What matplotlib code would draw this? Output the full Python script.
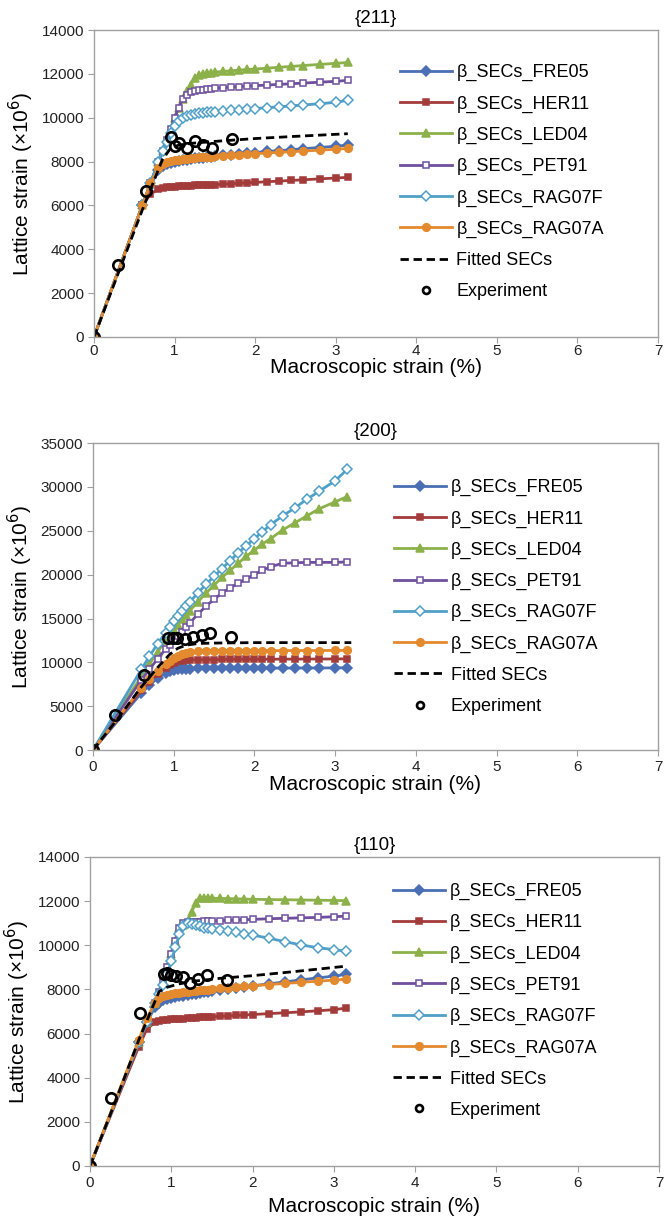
import matplotlib
matplotlib.use('Agg')
import matplotlib.pyplot as plt

plt.rcParams['font.family'] = ['Liberation Sans', 'DejaVu Sans']

# ---- {211} ----
x211 = [0, 0.6, 0.7, 0.8, 0.85, 0.9, 0.95, 1.0, 1.05, 1.1, 1.15, 1.2, 1.25, 1.3,
        1.35, 1.4, 1.45, 1.5, 1.6, 1.7, 1.8, 1.9, 2.0, 2.15, 2.3, 2.45, 2.6, 2.8, 3.0, 3.15]
fre05_211 = [0, 6000, 6900, 7600, 7800, 7900, 7950, 8000, 8030, 8060, 8090, 8110,
             8140, 8160, 8180, 8200, 8220, 8240, 8280, 8310, 8350, 8380, 8410, 8460, 8500, 8540, 8590,
             8640, 8700, 8750]
her11_211 = [0, 6000, 6500, 6750, 6800, 6820, 6840, 6860, 6870, 6880, 6890, 6900,
             6910, 6920, 6930, 6940, 6945, 6950, 6970, 6990, 7010, 7030, 7050, 7080, 7110, 7140, 7170,
             7210, 7250, 7280]
led04_211 = [0, 6000, 7000, 8000, 8500, 9000, 9500, 10000, 10450, 10850, 11200, 11500,
             11800, 11950, 12000, 12030, 12060, 12080, 12110, 12140, 12170, 12200, 12220, 12260, 12300,
             12340, 12380, 12430, 12480, 12520]
pet91_211 = [0, 6000, 7000, 8000, 8500, 9000, 9500, 10000, 10450, 10850, 11050, 11150,
             11200, 11250, 11280, 11300, 11320, 11340, 11370, 11400, 11420, 11440, 11460, 11490, 11520,
             11550, 11580, 11620, 11660, 11700]
rag07f_211 = [0, 6000, 7000, 8000, 8500, 8900, 9300, 9600, 9850, 10000, 10080, 10130,
              10170, 10200, 10220, 10240, 10260, 10280, 10310, 10340, 10370, 10400, 10420, 10460, 10500,
              10540, 10580, 10640, 10700, 10800]
rag07a_211 = [0, 6000, 7000, 7700, 7900, 8000, 8040, 8070, 8090, 8110, 8130, 8150,
              8170, 8190, 8200, 8220, 8230, 8250, 8270, 8300, 8320, 8340, 8360, 8390, 8420, 8450, 8480,
              8520, 8560, 8600]
fit_x211 = [0, 0.3, 0.6, 0.85, 0.95, 1.05, 1.2, 1.5, 2.0, 2.5, 3.15]
fit_y211 = [0, 2900, 5800, 8100, 8600, 8750, 8830, 8920, 9050, 9150, 9270]
exp_x211 = [0, 0.3, 0.645, 0.955, 1.0, 1.05, 1.15, 1.25, 1.35, 1.46, 1.71]
exp_y211 = [0, 3280, 6660, 9120, 8710, 8850, 8620, 8940, 8760, 8620, 9030]

# ---- {200} ----
x200 = [0, 0.6, 0.7, 0.8, 0.9, 0.95, 1.0, 1.05, 1.1, 1.15, 1.2, 1.3, 1.4, 1.5,
        1.6, 1.7, 1.8, 1.9, 2.0, 2.1, 2.2, 2.35, 2.5, 2.65, 2.8, 3.0, 3.15]
fre05_200 = [0, 6500, 7400, 8200, 8800, 9000, 9150, 9220, 9260, 9280, 9290, 9300,
             9300, 9310, 9310, 9320, 9320, 9330, 9330, 9340, 9340, 9350, 9350, 9360, 9360, 9370, 9380]
her11_200 = [0, 6800, 7800, 8700, 9400, 9700, 9950, 10100, 10200, 10250, 10280, 10300,
             10310, 10320, 10330, 10340, 10340, 10350, 10350, 10360, 10360, 10370, 10370, 10380, 10380,
             10390, 10400]
led04_200 = [0, 8400, 9800, 11200, 12500, 13100, 13700, 14300, 14900, 15400, 15900,
             16900, 17900, 18800, 19700, 20500, 21300, 22100, 22800, 23500, 24100, 25100, 25900, 26700,
             27500, 28300, 28900]
pet91_200 = [0, 8000, 9200, 10400, 11500, 12000, 12500, 13000, 13500, 14000, 14500,
             15500, 16400, 17200, 17900, 18500, 19000, 19500, 20000, 20500, 20900, 21300, 21350, 21400,
             21400, 21400, 21450]
rag07f_200 = [0, 9200, 10700, 12100, 13400, 14000, 14700, 15300, 15900, 16400, 16900,
              17900, 18900, 19800, 20700, 21600, 22500, 23300, 24100, 24900, 25700, 26700, 27600, 28600,
              29500, 30700, 32000]
rag07a_200 = [0, 7100, 8100, 9000, 9800, 10200, 10500, 10750, 10950, 11100, 11200,
              11270, 11300, 11310, 11320, 11320, 11330, 11330, 11330, 11340, 11340, 11340, 11350, 11350,
              11350, 11360, 11360]
fit_x200 = [0, 0.3, 0.6, 0.8, 0.95, 1.05, 1.15, 1.3, 1.5, 2.0, 2.5, 3.2]
fit_y200 = [0, 3500, 7200, 9400, 10900, 11600, 11950, 12150, 12200, 12250, 12250, 12250]
exp_x200 = [0, 0.27, 0.63, 0.93, 0.99, 1.04, 1.14, 1.24, 1.35, 1.45, 1.71]
exp_y200 = [0, 3990, 8550, 12770, 12800, 12820, 12660, 12880, 13110, 13340, 12880]

# ---- {110} ----
x110 = [0, 0.6, 0.7, 0.8, 0.85, 0.9, 0.95, 1.0, 1.05, 1.1, 1.15, 1.2, 1.25, 1.3,
        1.35, 1.4, 1.45, 1.5, 1.6, 1.7, 1.8, 1.9, 2.0, 2.2, 2.4, 2.6, 2.8, 3.0, 3.15]
fre05_110 = [0, 5600, 6500, 7200, 7400, 7500, 7560, 7610, 7650, 7690, 7720, 7750,
             7780, 7810, 7840, 7870, 7890, 7920, 7970, 8020, 8070, 8110, 8160, 8250, 8340, 8430, 8520,
             8600, 8680]
her11_110 = [0, 5400, 6200, 6500, 6560, 6600, 6620, 6640, 6660, 6670, 6680, 6700,
             6710, 6720, 6730, 6740, 6750, 6760, 6780, 6800, 6820, 6840, 6860, 6900, 6940, 6980, 7030,
             7080, 7150]
led04_110 = [0, 5600, 6500, 7400, 7900, 8400, 9000, 9600, 10200, 10800, 10900, 11100,
             11500, 11900, 12150, 12150, 12140, 12130, 12120, 12110, 12100, 12090, 12080, 12070, 12060,
             12050, 12040, 12030, 12020]
pet91_110 = [0, 5600, 6500, 7400, 7900, 8400, 9000, 9600, 10200, 10800, 11000, 11030,
             11050, 11060, 11070, 11080, 11090, 11100, 11110, 11130, 11140, 11160, 11170, 11200, 11220,
             11240, 11260, 11290, 11320]
rag07f_110 = [0, 5600, 6500, 7400, 7800, 8200, 8700, 9300, 9900, 10500, 10850, 11000,
              10950, 10900, 10850, 10800, 10770, 10740, 10690, 10640, 10580, 10520, 10460, 10320, 10160,
              10010, 9890, 9800, 9730]
rag07a_110 = [0, 5700, 6700, 7400, 7600, 7700, 7750, 7790, 7820, 7850, 7870, 7890,
              7910, 7930, 7950, 7970, 7990, 8000, 8040, 8070, 8100, 8130, 8160, 8220, 8270, 8320, 8370,
              8420, 8460]
fit_x110 = [0, 0.3, 0.6, 0.85, 0.95, 1.1, 1.3, 1.6, 2.0, 2.5, 3.15]
fit_y110 = [0, 2800, 5700, 7900, 8100, 8250, 8380, 8500, 8620, 8800, 9050]
exp_x110 = [0, 0.26, 0.62, 0.91, 0.95, 1.0, 1.06, 1.14, 1.23, 1.33, 1.44, 1.69]
exp_y110 = [0, 3080, 6930, 8700, 8720, 8650, 8600, 8560, 8290, 8470, 8650, 8430]

labels = ['β_SECs_FRE05', 'β_SECs_HER11', 'β_SECs_LED04', 'β_SECs_PET91', 'β_SECs_RAG07F', 'β_SECs_RAG07A']
colors = ['#4a6fb5', '#a33b3a', '#8db14a', '#6f4f9e', '#4fa0c8', '#e48a2e']
markers = ['D', 's', '^', 's', 'D', 'o']
filled = [True, True, True, False, False, True]

# title, x, series, fit, experiment, ymax, ystep, axes box, x tick pad, xlabel pad, legend anchor
panels = [
    ('{211}', x211, [fre05_211, her11_211, led04_211, pet91_211, rag07f_211, rag07a_211],
     fit_x211, fit_y211, exp_x211, exp_y211, 14000, 2000, [0.1414, 0.7238, 0.848, 0.2516],
     1, 0, (0.529, 0.912)),
    ('{200}', x200, [fre05_200, her11_200, led04_200, pet91_200, rag07f_200, rag07a_200],
     fit_x200, fit_y200, exp_x200, exp_y200, 35000, 5000, [0.1398, 0.3852, 0.8496, 0.2516],
     3, 1, (0.52, 0.906)),
    ('{110}', x110, [fre05_110, her11_110, led04_110, pet91_110, rag07f_110, rag07a_110],
     fit_x110, fit_y110, exp_x110, exp_y110, 14000, 2000, [0.1353, 0.0443, 0.8556, 0.2533],
     3, 5, (0.52, 0.939)),
]

fig = plt.figure(figsize=(6.65, 12.2), dpi=100)
grey = '#a0a0a0'

for title, xs, series, fx, fy, ex, ey, ymax, ystep, pos, xpad, xlpad, anchor in panels:
    ax = fig.add_axes(pos)
    for ys, lab, c, m, f in zip(series, labels, colors, markers, filled):
        ms = 5.5 if m in ('o', '^') else 5
        ax.plot(xs, ys, color=c, lw=2.0, marker=m, ms=ms,
                markerfacecolor=c if f else 'white', markeredgecolor=c,
                markeredgewidth=1.1, label=lab)
    ax.plot(fx, fy, color='black', lw=2.0, ls=(0, (3.0, 1.7)), label='Fitted SECs')
    ax.plot(ex, ey, ls='none', marker='o', ms=7.5, markerfacecolor='none',
            markeredgecolor='black', markeredgewidth=1.9, label='Experiment')

    ax.set_xlim(0, 7)
    ax.set_ylim(0, ymax)
    ax.set_xticks(range(0, 8))
    ax.set_yticks(range(0, ymax + 1, ystep))
    for s in ax.spines.values():
        s.set_color(grey)
        s.set_linewidth(1.0)
    ax.tick_params(direction='out', length=4, color=grey, labelsize=11, labelcolor='#222222', pad=3)
    ax.tick_params(axis='x', pad=xpad)
    ax.set_xlabel('Macroscopic strain (%)', fontsize=15, labelpad=xlpad)
    ax.set_ylabel('Lattice strain (×10$^6$)', fontsize=15, labelpad=4)
    ax.set_title(title, fontsize=13.5, pad=5)

    h, l = ax.get_legend_handles_labels()
    leg = ax.legend(h, l, loc='upper left', bbox_to_anchor=anchor, frameon=False,
                    fontsize=13, handlelength=2.9, handletextpad=0.25, labelspacing=0.78,
                    borderaxespad=0)
    # smaller circle in legend for the experiment
    leg.legend_handles[-1].set_markersize(5)

fig.savefig('out.png', dpi=100)
